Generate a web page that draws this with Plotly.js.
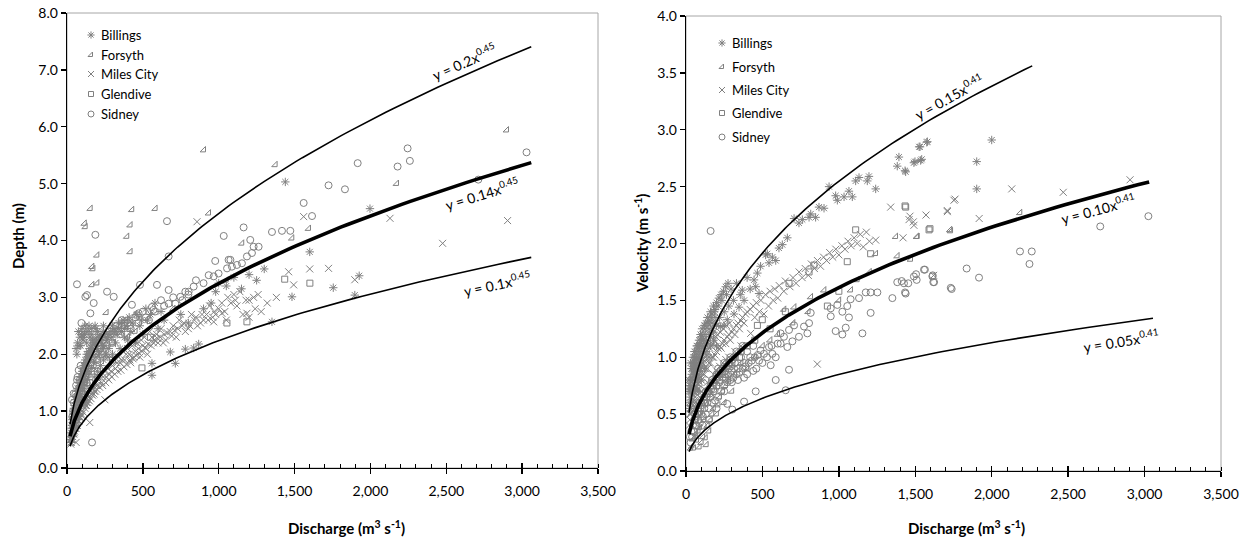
<!DOCTYPE html>
<html><head><meta charset="utf-8">
<script src="https://cdn.plot.ly/plotly-3.0.1.min.js"></script>
<style>html,body{margin:0;padding:0;background:#fff}#chart{width:1248px;height:539px}</style>
</head><body><div id="chart"></div>
<script>
// ---------- Station names ----------
const stations = ['Billings','Forsyth','Miles City','Glendive','Sidney'];

// ---------- Depth (Q m3/s, depth m) ----------
const billingsDepth = [[25,0.45],[30,0.55],[35,0.6],[40,0.7],[45,0.65],[50,0.8],[55,0.75],[60,0.9],[65,0.85],[70,1.0],[75,1.1],[80,0.95],[85,1.2],[90,1.3],[95,1.15],[100,1.4],[105,1.25],[110,1.5],[115,1.35],[120,1.6],[125,1.45],[130,1.7],[135,1.55],[140,1.8],[150,1.65],[155,1.9],[160,1.75],[170,2.0],[175,1.85],[180,1.6],[190,1.95],[200,1.7],[210,2.05],[220,1.8],[230,2.1],[240,1.9],[250,2.15],
[60,2.1],[70,2.2],[75,2.4],[85,2.3],[90,2.15],[100,2.45],[105,2.25],[115,2.35],[120,2.5],[130,2.2],[140,2.4],[150,2.3],[160,2.45],[170,2.25],[185,2.5],[200,2.4],[220,2.3],[240,2.5],
[270,1.95],[300,2.0],[320,2.2],[350,2.1],[380,2.3],[400,2.25],[420,2.4],[450,2.2],[480,2.5],[500,2.35],[530,2.6],[560,1.63],[560,1.84],[600,2.45],[640,2.6],[681,2.04],[714,1.84],[750,2.7],[780,2.09],[800,2.55],[835,2.11],[868,2.18],[900,2.8],[950,2.9],[980,3.1],[1000,3.25],[1050,3.2],[1100,3.35],[1150,3.15],[1200,3.4],[1250,3.3],[1300,3.5],[1351,2.57],[1439,5.03],[1483,3.01],[1600,3.8],[1897,3.04],[1755,3.17],[1997,4.56],[1926,3.38],
[30,0.7],[35,0.85],[40,0.95],[45,1.05],[50,1.1],[55,1.2],[60,1.25],[65,1.35],[70,1.4],[75,1.3],[80,1.5],[85,1.45],[90,1.6],[95,1.55],[100,1.7],[105,1.65],[110,1.8],[115,1.75],[120,1.9],[125,1.85],[130,2.0],[135,1.95],[140,2.05],[145,1.7],[150,2.1],[160,2.0],[165,2.15],[175,2.05],[185,2.2],[195,2.1],[205,2.25],[215,2.0],[225,2.3],[235,2.15],[245,2.35],[255,2.0],[265,2.25],[275,2.1],[285,2.4],[295,2.3],[310,2.45],[330,2.35],[340,2.55],[360,2.4],[370,2.6],[390,2.5],[410,2.65],[430,2.55],[460,2.7],[490,2.6],[520,2.8],[550,2.7],[580,2.9],[620,2.75],
[22,0.5],[28,0.62],[33,0.75],[38,0.8],[43,0.9],[48,0.95],[53,1.0],[58,1.1],[63,1.15],[68,1.2],[73,1.25],[78,1.35],[83,1.4],[88,1.5],[93,1.45],[98,1.6],[103,1.55],[108,1.7],[113,1.65],[118,1.75],[123,1.7],[128,1.8],[133,1.85],[138,1.9],[143,2.0],[148,1.95],[158,2.05],[168,2.1],[178,2.2],[188,2.15],[198,2.3],[208,2.2],[218,2.35],[228,2.25],[238,2.4],[258,2.3],[278,2.35],[298,2.5],[318,2.4],[338,2.45],[358,2.55],[378,2.45],[398,2.6],[65,2.0],[80,2.15],[95,2.35],[110,2.3],[125,2.4],[145,2.5],[165,2.35],[190,2.45]];
const forsythDepth = [[154,4.56],[428,4.54],[582,4.56],[934,4.48],[115,4.30],[121,4.24],[417,4.27],[395,4.07],[417,3.80],[198,3.74],[165,3.54],[172,3.50],[165,3.22],[198,3.25],[1153,3.95],[1593,4.21],[1483,4.04],[901,5.59],[1373,5.33],[2898,5.94],[2173,5.0],[259,2.73],[60,1.0],[80,1.3],[120,1.5],[150,2.0],[200,1.9],[300,2.2],[350,2.5],[700,2.8],[1050,3.3],
[40,0.8],[70,1.2],[100,1.4],[130,1.6],[180,1.8],[250,2.0],[400,2.3],[450,2.4]];
const milesCityDepth = [[30,0.5],[40,0.6],[55,0.7],[70,0.85],[85,0.9],[100,1.0],[120,1.1],[140,1.2],[160,1.3],[180,1.35],[200,1.45],[230,1.5],[260,1.6],[290,1.7],[320,1.75],[350,1.85],[380,1.9],[410,2.0],[440,1.95],[470,2.1],[500,2.15],[530,2.0],[560,2.3],[600,2.2],[640,2.35],[680,2.4],[720,2.3],[760,2.5],[800,2.45],[840,2.6],[857,4.33],[880,2.55],[920,2.7],[960,2.65],[1000,2.8],[1021,2.72],[1040,2.75],[1080,2.9],[1110,2.95],[1120,2.85],[1160,2.7],[1186,2.72],[1200,2.95],[1230,3.0],[1240,2.8],[1280,2.75],[1320,2.9],[1380,3.0],[1461,3.45],[1494,3.22],[1560,4.42],[1600,3.5],[1724,3.51],[1897,3.31],[2129,4.39],[2476,3.95],[2904,4.35],[150,0.8],[250,1.2],[60,0.45],[1100,3.05],[1050,2.6],[1200,2.65],[967,2.57],
[25,0.42],[35,0.5],[45,0.6],[50,0.65],[60,0.75],[65,0.8],[75,0.9],[80,1.0],[90,1.05],[95,0.95],[105,1.1],[110,1.2],[115,1.15],[125,1.25],[130,1.15],[135,1.3],[145,1.25],[150,1.4],[155,1.35],[165,1.45],[170,1.4],[185,1.5],[190,1.45],[205,1.6],[210,1.55],[220,1.65],[240,1.6],[250,1.7],[270,1.75],[280,1.65],[300,1.8],[310,1.9],[330,1.85],[340,1.95],[360,1.9],[370,2.05],[390,2.0],[400,2.1],[420,1.85],[430,2.15],[450,2.05],[460,2.2],[480,1.95],[490,2.25],[510,2.3],[520,2.1],[545,2.4],[570,2.2],[590,2.35],[620,2.45],[650,2.25],[700,2.5],[740,2.6],[780,2.4],[820,2.7],[860,2.5],[900,2.6],[940,2.85],[980,2.7],[1020,2.9],[1060,3.0],[1140,3.1],[1180,2.95],[1260,3.05],
[28,0.45],[38,0.55],[48,0.62],[58,0.7],[68,0.75],[78,0.82],[88,0.88],[98,0.92],[108,0.98],[118,1.05],[128,1.1],[138,1.15],[148,1.18],[158,1.22],[168,1.28],[178,1.3],[188,1.35],[198,1.38],[215,1.42],[235,1.45],[255,1.5],[275,1.55],[295,1.6],[315,1.65],[335,1.7],[355,1.72],[375,1.78],[395,1.82],[415,1.9],[435,1.92],[455,1.98],[475,2.02],[495,2.05],[515,2.12],[535,2.18],[555,2.15],[575,2.25],[595,2.28],[615,2.3],[635,2.2],[660,2.38],[690,2.32],[710,2.42],[730,2.45],[770,2.55],[810,2.5],[850,2.65],[890,2.7],[930,2.6],[970,2.75]];
const glendiveDepth = [[461,2.69],[494,1.76],[1054,2.55],[1186,2.57],[1435,3.32],[1601,3.25],[176,2.22],[60,0.9],[100,1.2],[150,1.5],[300,1.9],[200,1.7],[550,2.3]];
const sidneyDepth = [[66,3.23],[187,4.10],[659,4.34],[1033,4.08],[1164,4.23],[1351,4.15],[1417,4.17],[1472,4.17],[1560,4.66],[1615,4.43],[1724,4.97],[121,3.01],[132,3.04],[176,2.90],[264,3.10],[308,3.01],[154,2.72],[670,3.72],[593,3.22],[670,3.13],[977,3.64],[1077,3.66],[1208,4.01],[1230,3.89],[1263,3.89],[428,2.87],[472,2.72],[417,2.51],[560,2.83],[570,2.78],[670,2.89],[714,2.89],[747,3.01],[780,3.10],[835,3.19],[802,3.10],[934,3.39],[967,3.37],[999,3.42],[1055,3.51],[1065,3.66],[1087,3.54],[1120,3.57],[1153,3.60],[1186,3.72],[1219,3.78],[77,1.72],[66,1.55],[44,1.31],[33,1.20],[165,0.45],[2245,5.62],[2260,5.40],[2179,5.30],[1916,5.36],[3029,5.55],[1832,4.90],[2711,5.07],[481,3.22],
[50,1.0],[80,1.4],[100,1.6],[120,1.8],[150,2.0],[180,2.1],[210,2.2],[250,2.3],[280,2.4],[320,2.5],[360,2.6],[400,2.55],[450,2.65],[500,2.75],[540,2.6],[620,2.95],[700,3.0],[850,3.3],[900,3.25],[230,2.0],[300,2.2],[350,2.35],[200,1.9],[130,1.5],[90,1.8],[60,1.45],[95,2.55],[40,1.0],
[35,0.9],[45,1.15],[55,1.3],[65,1.25],[70,1.6],[85,1.55],[110,1.7],[140,1.9],[160,1.85],[190,2.05],[220,2.1],[240,2.25],[260,2.15],[290,2.35],[330,2.4],[380,2.5],[420,2.45],[470,2.55],[520,2.65],[580,2.75],[640,2.85],[760,2.95],[800,3.05]];

// ---------- Velocity (Q m3/s, velocity m/s) ----------
const billingsVel = [[25,0.55],[30,0.65],[35,0.7],[40,0.75],[45,0.8],[50,0.72],[55,0.85],[60,0.9],[65,0.82],[70,0.95],[75,0.88],[80,1.0],[85,0.93],[90,1.05],[95,0.97],[100,1.1],[110,1.02],[115,1.15],[120,1.08],[130,1.2],[140,1.12],[150,1.25],[160,1.18],[170,1.3],[180,1.22],[190,1.35],[200,1.28],[227,1.27],[249,1.28],[270,1.33],[314,1.38],[347,1.44],[368,1.59],[380,1.50],[445,1.68],[456,1.62],[467,1.74],[478,1.56],[488,1.80],[521,1.90],[532,1.91],[543,1.83],[565,1.88],[587,1.85],[608,1.96],[630,1.99],[663,2.05],[707,2.22],[739,2.18],[761,2.21],[805,2.23],[816,2.26],[848,2.23],[870,2.32],[903,2.31],[936,2.50],[979,2.42],[990,2.38],[1034,2.41],[1066,2.46],[1088,2.41],[1110,2.55],[1132,2.58],[1186,2.55],[1197,2.59],[1241,2.48],[1382,2.68],[1393,2.76],[1437,2.63],[1491,2.71],[1525,2.85],[1535,2.73],[1579,2.895],[1531,2.85],[1575,2.89],[1498,2.72],[1542,2.74],[1433,2.64],[2000,2.91],[1902,2.72],[1902,2.48],[30,0.8],[20,0.8],[40,0.9],[60,1.0],[50,0.95],[70,1.1],[100,0.8],[120,0.9],[150,1.0],[80,0.7],[200,1.1],
[22,0.6],[28,0.7],[32,0.75],[38,0.85],[42,0.7],[48,0.9],[52,0.8],[58,0.95],[62,0.85],[68,1.0],[72,0.9],[78,1.05],[82,0.95],[88,1.1],[92,1.0],[98,1.15],[105,1.05],[112,1.2],[118,1.1],[125,1.25],[135,1.15],[145,1.3],[155,1.2],[165,1.35],[175,1.25],[185,1.4],[195,1.3],[210,1.45],[220,1.35],[235,1.5],[250,1.4],[265,1.55],[280,1.45],[295,1.6],[310,1.5],[330,1.65],[355,1.55],[400,1.7],[420,1.6],[30,0.95],[45,1.0],[55,1.05],[65,0.75],[75,0.8],[85,0.85],[95,0.9],[110,0.95],[130,1.05],[160,1.1],[180,1.15],
[20,0.7],[25,0.75],[30,0.72],[35,0.9],[40,0.82],[45,0.95],[50,0.88],[55,1.0],[60,0.92],[65,1.05],[70,0.98],[75,1.1],[80,1.08],[85,1.15],[90,1.12],[95,1.2],[100,1.18],[105,1.25],[110,1.15],[120,1.28],[130,1.3],[140,1.35],[150,1.32],[160,1.4],[170,1.38],[180,1.45],[190,1.42],[200,1.48],[215,1.52],[230,1.55],[245,1.58],[260,1.62],[275,1.65]];
const forsythVel = [[1372,2.06],[1514,2.06],[1732,2.11],[1382,1.89],[1470,1.86],[1241,1.91],[903,1.59],[816,1.53],[707,1.44],[641,1.42],[1077,1.59],[1121,1.68],[1727,2.12],[1509,2.06],[2185,2.27],[70,0.27],[127,0.29],[133,0.23],[87,0.21],[50,0.2],[100,0.25],[150,0.35],[200,0.5],[250,0.6],[300,0.7],[400,0.9],[500,1.1],[600,1.2],[1000,1.5],[1200,1.75],
[40,0.22],[60,0.3],[80,0.35],[110,0.3],[140,0.4],[160,0.45],[180,0.55],[220,0.65],[260,0.75],[320,0.85],[360,0.95],[450,1.0],[550,1.15],[700,1.3],[800,1.4],
[30,0.2],[45,0.28],[65,0.33],[90,0.38],[120,0.45],[170,0.5],[210,0.58],[240,0.7],[280,0.8]];
const milesCityVel = [[30,0.5],[40,0.55],[50,0.6],[60,0.65],[70,0.7],[80,0.72],[90,0.78],[100,0.8],[120,0.85],[140,0.9],[160,0.95],[180,1.0],[200,1.05],[230,1.08],[260,1.12],[290,1.15],[320,1.2],[350,1.25],[380,1.3],[423,1.21],[450,1.35],[480,1.4],[510,1.38],[540,1.45],[570,1.5],[600,1.52],[640,1.58],[680,1.62],[720,1.65],[760,1.7],[800,1.72],[840,1.78],[880,1.8],[920,1.85],[960,1.88],[1000,1.9],[1040,1.95],[1080,1.98],[1120,2.0],[1160,1.97],[1200,2.02],[1241,2.03],[859,0.94],[1753,2.38],[1710,2.28],[2131,2.48],[2468,2.45],[2905,2.56],[1760,2.39],[1709,2.29],[1918,2.22],[1487,2.19],[1465,2.24],[1339,2.32],[1459,2.21],[1491,2.16],[1420,2.05],[1570,2.25],[1620,1.72],
[25,0.45],[35,0.52],[45,0.58],[55,0.62],[65,0.68],[75,0.72],[85,0.76],[95,0.82],[110,0.85],[130,0.9],[150,0.95],[170,1.0],[190,1.02],[210,1.08],[220,1.1],[240,1.12],[250,1.15],[270,1.18],[280,1.2],[300,1.22],[310,1.25],[330,1.28],[340,1.3],[360,1.32],[370,1.35],[390,1.38],[400,1.4],[420,1.42],[440,1.45],[460,1.48],[490,1.5],[520,1.55],[550,1.58],[580,1.6],[610,1.63],[650,1.67],[700,1.7],[740,1.75],[780,1.78],[820,1.82],[860,1.85],[900,1.88],[940,1.92],[980,1.95],[1020,1.98],[1060,2.02],[1100,2.05],[1140,2.08],[1180,2.1],[60,0.55],[90,0.65],[120,0.72],[160,0.8],[200,0.88],[240,0.95],[280,1.0],[320,1.05],[360,1.1],[100,0.7],[140,0.78],[180,0.85],[220,0.92],[260,0.98],
[20,0.4],[25,0.5],[30,0.55],[35,0.6],[40,0.62],[45,0.68],[50,0.7],[55,0.72],[60,0.75],[65,0.78],[70,0.8],[75,0.82],[80,0.85],[85,0.88],[90,0.9],[95,0.93],[105,0.95],[115,0.98],[125,1.0],[135,1.02],[145,1.05],[155,1.08],[165,1.1],[175,1.12],[185,1.15],[195,1.18],[205,1.2],[225,1.22],[245,1.25],[265,1.28],[285,1.3]];
const glendiveVel = [[1110,2.12],[1590,2.12],[1437,2.32],[1055,1.84],[837,1.81],[805,1.75],[674,1.65],[499,1.33],[467,1.28],[925,1.45],[1208,1.91],[1596,2.13],[1433,2.33],[60,0.45],[120,0.6],[200,0.75],[300,0.95],[400,1.1],[1000,1.58],
[80,0.5],[150,0.7],[250,0.85],[350,1.0],[450,1.15],[550,1.25],[650,1.4]];
const sidneyVel = [[161,2.11],[1382,1.66],[1426,1.65],[1491,1.71],[1557,1.77],[1612,1.71],[1623,1.66],[1732,1.61],[1350,1.52],[1437,1.56],[1208,1.39],[1154,1.21],[1023,1.20],[1045,1.26],[1066,1.35],[979,1.23],[1252,1.57],[1208,1.57],[1176,1.57],[1132,1.52],[1077,1.51],[1055,1.45],[1023,1.40],[947,1.36],[990,1.46],[947,1.43],[816,1.39],[805,1.30],[772,1.27],[794,1.21],[739,1.18],[707,1.28],[674,1.24],[696,1.14],[641,1.18],[619,1.21],[619,1.12],[663,1.09],[543,1.09],[510,1.03],[478,0.97],[488,1.06],[565,1.03],[587,1.00],[554,0.93],[674,0.89],[587,0.80],[456,0.70],[380,0.61],[303,0.54],[270,0.59],[652,0.71],[3025,2.24],[2710,2.15],[2185,1.93],[2262,1.93],[2247,1.82],[1836,1.78],[1917,1.70],[1738,1.60],[1618,1.66],[1563,1.77],[1505,1.73],[1509,1.68],[1433,1.57],[1454,1.65],[1411,1.67],[1614,1.72],
[40,0.3],[60,0.4],[80,0.45],[100,0.5],[120,0.55],[140,0.6],[160,0.65],[180,0.7],[200,0.75],[220,0.8],[240,0.82],[260,0.85],[280,0.9],[300,0.88],[320,0.95],[340,0.9],[360,1.0],[380,0.95],[400,1.05],[420,1.0],[440,1.1],[460,0.9],[90,0.6],[130,0.7],[170,0.8],[210,0.9],[250,0.95],[290,1.0],[330,1.05],[370,1.1],[150,0.45],[200,0.55],[250,0.7],[110,0.4],
[30,0.25],[50,0.35],[70,0.4],[90,0.42],[110,0.48],[130,0.5],[150,0.55],[170,0.6],[190,0.62],[210,0.65],[230,0.7],[250,0.75],[270,0.78],[290,0.8],[310,0.82],[330,0.85],[350,0.87],[370,0.9],[390,0.92],[410,0.95],[430,0.97],[450,1.0],[470,1.02],[500,0.95],[530,1.0],[560,1.1],[600,1.12],[120,0.65],[160,0.75],[200,0.85],[240,0.9],[280,0.95],[320,1.0],[360,1.05],[400,0.85],[440,0.88],[60,0.5],[80,0.55],[100,0.6],[140,0.68],[180,0.72],[220,0.78],[260,0.82],[300,0.78],[340,0.8],[380,0.82],
[25,0.3],[35,0.35],[45,0.4],[55,0.45],[65,0.48],[75,0.5],[85,0.52],[95,0.55],[105,0.58],[115,0.62],[125,0.6],[135,0.65],[145,0.7],[155,0.68],[165,0.72],[175,0.75],[185,0.78],[195,0.8],[205,0.82],[215,0.85],[225,0.88],[235,0.86],[245,0.9],[255,0.88],[265,0.92],[275,0.85],[285,0.95],[295,0.92],[305,0.98],[315,0.9]];

// ---------- Power-law fits y = a x^b ----------
const depthCoef = [0.2, 0.145, 0.1];
const depthExp = 0.45;
const depthEnd = [3060, 3060, 3060];
const depthLabels = ['y = 0.2x<sup>0.45</sup>', 'y = 0.14x<sup>0.45</sup>', 'y = 0.1x<sup>0.45</sup>'];
const depthLabelPos = [[2616,7.15,-24],[2735,4.83,-17],[2834,3.25,-12]];

const velCoef = [0.15, 0.095, 0.05];
const velExp = 0.41;
const velEnd = [2265, 3030, 3055];
const velLabels = ['y = 0.15x<sup>0.41</sup>', 'y = 0.10x<sup>0.41</sup>', 'y = 0.05x<sup>0.41</sup>'];
const velLabelPos = [[1721,3.29,-29],[2695,2.31,-15],[2846,1.15,-9]];

const lineWidths = [1.6, 3.6, 1.6];
const qStart = 20;

// ---------- Legend placement (pixels) ----------
const legendLeft = {mx:91, tx:99, ys:[35,55,74,94,114]};
const legendRight = {mx:722, tx:730, ys:[43,67,90,113,137]};

// ---------- Build ----------
const GRAY = '#808080';
const FONT = 'Lato, "Open Sans", sans-serif';
const symbols = ['asterisk-open','triangle-se-open','x-thin-open','square-open','circle-open'];
const sizes = [7,6,7,6,7];
const depthSets = [billingsDepth, forsythDepth, milesCityDepth, glendiveDepth, sidneyDepth];
const velSets = [billingsVel, forsythVel, milesCityVel, glendiveVel, sidneyVel];
const W=1248, H=539;
const px = v=>v/W, py = v=>1 - v/H;

const traces = [];
function addScatter(sets, xa, ya){
  sets.forEach((s,i)=>{
    traces.push({type:'scatter', mode:'markers', name:stations[i], xaxis:xa, yaxis:ya, showlegend:false,
      x:s.map(p=>p[0]), y:s.map(p=>p[1]),
      marker:{symbol:symbols[i], size:sizes[i], color:GRAY, line:{color:GRAY, width:1}},
      hoverinfo:'skip'});
  });
}
addScatter(depthSets,'x','y');
addScatter(velSets,'x2','y2');

function addCurves(coef, b, ends, xa, ya){
  coef.forEach((a,i)=>{
    const xs=[], ys=[];
    const n=200;
    for(let k=0;k<=n;k++){
      const q = qStart*Math.pow(ends[i]/qStart, k/n);
      xs.push(q); ys.push(a*Math.pow(q,b));
    }
    traces.push({type:'scatter', mode:'lines', x:xs, y:ys, xaxis:xa, yaxis:ya, showlegend:false,
      line:{color:'#000', width:lineWidths[i]}, hoverinfo:'skip'});
  });
}
addCurves(depthCoef, depthExp, depthEnd, 'x','y');
addCurves(velCoef, velExp, velEnd, 'x2','y2');

// invisible traces so the inside-major-tick overlay axes are drawn
traces.push({type:'scatter', mode:'markers', x:[null], y:[null], xaxis:'x4', yaxis:'y', showlegend:false, hoverinfo:'skip'});
traces.push({type:'scatter', mode:'markers', x:[null], y:[null], xaxis:'x5', yaxis:'y2', showlegend:false, hoverinfo:'skip'});

// legend markers on a full-page pixel overlay axis
const annotations = [];
[legendLeft, legendRight].forEach(L=>{
  stations.forEach((s,i)=>{
    traces.push({type:'scatter', mode:'markers', x:[L.mx], y:[L.ys[i]], xaxis:'x3', yaxis:'y3', showlegend:false,
      marker:{symbol:symbols[i], size:sizes[i]-1, color:GRAY, line:{color:GRAY,width:1}}, hoverinfo:'skip'});
    annotations.push({xref:'paper', yref:'paper', x:px(L.tx), y:py(L.ys[i]), xanchor:'left', yanchor:'middle',
      text:s, showarrow:false, font:{family:FONT, size:13, color:'#000'}});
  });
});

depthLabels.forEach((t,i)=>annotations.push({xref:'x',yref:'y',x:depthLabelPos[i][0],y:depthLabelPos[i][1],xanchor:'center',yanchor:'middle',text:t,textangle:depthLabelPos[i][2],showarrow:false,font:{family:FONT,size:14,color:'#000'}}));
velLabels.forEach((t,i)=>annotations.push({xref:'x2',yref:'y2',x:velLabelPos[i][0],y:velLabelPos[i][1],xanchor:'center',yanchor:'middle',text:t,textangle:velLabelPos[i][2],showarrow:false,font:{family:FONT,size:14,color:'#000'}}));
const titleFont = {family:FONT,size:15,color:'#000',weight:'bold'};
annotations.push({xref:'paper',yref:'paper',x:px(346),y:py(527),xanchor:'center',yanchor:'middle',text:'<b>Discharge (m<sup>3</sup> s<sup>-1</sup>)</b>',showarrow:false,font:titleFont});
annotations.push({xref:'paper',yref:'paper',x:px(966),y:py(527),xanchor:'center',yanchor:'middle',text:'<b>Discharge (m<sup>3</sup> s<sup>-1</sup>)</b>',showarrow:false,font:titleFont});
annotations.push({xref:'paper',yref:'paper',x:px(18),y:py(236),xanchor:'center',yanchor:'middle',text:'<b>Depth (m)</b>',textangle:-90,showarrow:false,font:titleFont});
annotations.push({xref:'paper',yref:'paper',x:px(641),y:py(243),xanchor:'center',yanchor:'middle',text:'<b>Velocity (m s<sup>-1</sup>)</b>',textangle:-90,showarrow:false,font:titleFont});

function xax(dom){ return {domain:dom, range:[0,3500], dtick:500, tickformat:',', showgrid:false, zeroline:false,
  showline:true, linecolor:'#000', linewidth:1.3, ticks:'outside', ticklen:5, tickcolor:'#000', tickwidth:1.3,
  minor:{dtick:100, ticks:'inside', ticklen:4, tickcolor:'#000', tickwidth:1},
  tickfont:{family:FONT,size:14,color:'#000'}, ticklabelstandoff:5, fixedrange:true}; }
function xin(ov, anc, dom){ return {overlaying:ov, anchor:anc, domain:dom, range:[0,3500], dtick:500, showgrid:false, zeroline:false,
  showline:false, ticks:'inside', ticklen:5, tickcolor:'#000', tickwidth:1.3, showticklabels:false, side:'bottom', fixedrange:true}; }
function yax(dom, r, dt){ return {domain:dom, range:r, dtick:dt, tickformat:'.1f', showgrid:false, zeroline:false,
  showline:true, linecolor:'#000', linewidth:1.3, ticks:'outside', ticklen:5, tickcolor:'#000', tickwidth:1.3,
  tickfont:{family:FONT,size:14,color:'#000'}, fixedrange:true}; }

const dom1 = [px(67), px(598)], dom2 = [px(686), px(1221)];
const layout = {
  width:W, height:H, margin:{l:0,r:0,t:0,b:0}, paper_bgcolor:'#fff', plot_bgcolor:'rgba(0,0,0,0)',
  font:{family:FONT}, showlegend:false,
  xaxis: xax(dom1),
  yaxis: yax([1-468/H, 1-13/H], [0,8], 1),
  xaxis2: Object.assign(xax(dom2), {anchor:'y2'}),
  yaxis2: Object.assign(yax([1-471/H, 1-16/H], [0,4], 0.5), {anchor:'x2'}),
  xaxis3: {domain:[0,1], range:[0,W], visible:false, anchor:'y3', fixedrange:true},
  yaxis3: {domain:[0,1], range:[H,0], visible:false, anchor:'x3', fixedrange:true},
  xaxis4: xin('x','y',dom1),
  xaxis5: xin('x2','y2',dom2),
  shapes:[
    {type:'rect', xref:'x domain', yref:'y domain', x0:0,x1:1,y0:0,y1:1, line:{color:'#a6a6a6',width:1}, layer:'below'},
    {type:'rect', xref:'x2 domain', yref:'y2 domain', x0:0,x1:1,y0:0,y1:1, line:{color:'#a6a6a6',width:1}, layer:'below'}
  ],
  annotations: annotations
};
Plotly.newPlot('chart', traces, layout, {staticPlot:true, displayModeBar:false});
</script></body></html>
